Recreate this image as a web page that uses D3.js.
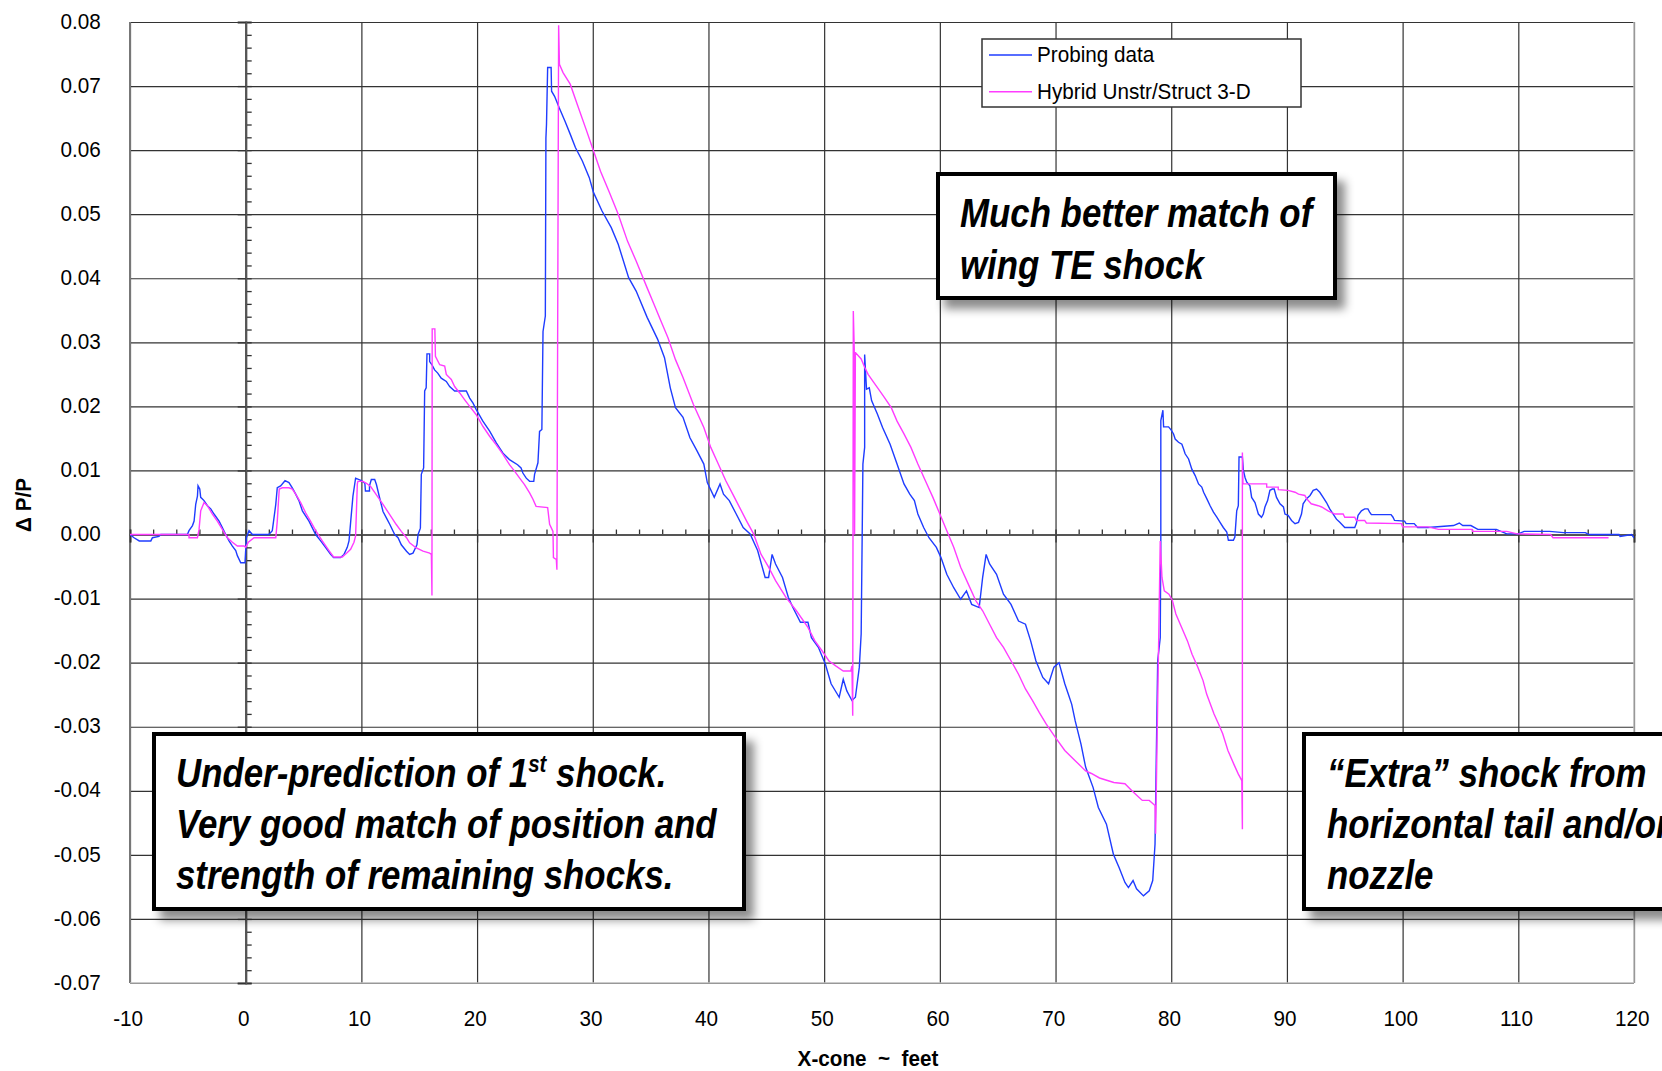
<!DOCTYPE html>
<html>
<head>
<meta charset="utf-8">
<script src="https://cdnjs.cloudflare.com/ajax/libs/d3/7.8.5/d3.min.js"></script>
<style>
  body { margin: 0; background: #fff; }
  svg { display: block; font-family: "Liberation Sans", Arial, sans-serif; }
</style>
</head>
<body>
<svg width="1662" height="1071"></svg>
<script>
// tick labels
var xTicks = [-10, 0, 10, 20, 30, 40, 50, 60, 70, 80, 90, 100, 110, 120];
var yTicks = [0.08, 0.07, 0.06, 0.05, 0.04, 0.03, 0.02, 0.01, 0, -0.01, -0.02, -0.03, -0.04, -0.05, -0.06, -0.07];
var seriesNames = ['Probing data', 'Hybrid Unstr/Struct 3-D'];

// Probing data  [x-cone ft, dP/P]
var probing = [
  [-10, 0], [-9.65, -0.0005], [-9.2, -0.001], [-8.2, -0.001], [-8.06, -0.0005], [-7.5, -0.0003], [-7.34, 0],
  [-5.04, 0], [-4.9, 0.0006], [-4.6, 0.0014], [-4.46, 0.0021], [-4.32, 0.0047], [-4.17, 0.006], [-4.12, 0.0076],
  [-3.97, 0.0071], [-3.89, 0.0058], [-3.6, 0.0053], [-3.31, 0.0045], [-3.02, 0.004], [-2.74, 0.0032], [-2.3, 0.0021],
  [-2.02, 0.0011], [-1.73, 0], [-1.44, -0.001], [-1.15, -0.0018], [-0.86, -0.0025], [-0.72, -0.0033], [-0.43, -0.0044],
  [-0.06, -0.0044], [0.06, -0.0005], [0.29, 0.0006], [0.58, 0], [2.0, 0], [2.3, 0.0006], [2.6, 0.0047], [2.73, 0.0073],
  [3.02, 0.0076], [3.4, 0.0084], [3.74, 0.0081], [4.03, 0.0073], [4.32, 0.0063], [4.6, 0.0053], [4.9, 0.0037],
  [5.47, 0.0021], [6.05, 0], [6.48, -0.001], [6.9, -0.002], [7.34, -0.0031], [7.6, -0.0036], [8.2, -0.0036],
  [8.5, -0.0031], [8.78, -0.002], [8.93, -0.001], [9.07, 0.0019], [9.27, 0.006], [9.5, 0.0088], [10.0, 0.0084],
  [10.3, 0.008], [10.35, 0.0068], [10.7, 0.0068], [10.7, 0.0076], [10.86, 0.0086], [11.15, 0.0086], [11.3, 0.0078],
  [11.58, 0.0057], [11.87, 0.0036], [12.16, 0.0026], [12.45, 0.0016], [12.88, 0], [13.17, -0.0005], [13.45, -0.0016],
  [13.9, -0.0026], [14.17, -0.0031], [14.46, -0.0029], [14.8, -0.0016], [14.9, 0], [15.1, 0.001], [15.18, 0.0094],
  [15.38, 0.0104], [15.47, 0.0224], [15.6, 0.0229], [15.67, 0.0282], [15.9, 0.0282], [15.9, 0.027], [16.1, 0.0265],
  [16.33, 0.0257], [16.6, 0.0252], [16.9, 0.0244], [17.34, 0.0239], [17.63, 0.0231], [18.06, 0.0224], [19.07, 0.0224],
  [19.36, 0.0213], [19.65, 0.0205], [19.93, 0.0195], [20.5, 0.0177], [21.1, 0.0161], [21.66, 0.0143], [22.24, 0.0127],
  [22.8, 0.0117], [23.5, 0.0109], [23.8, 0.0104], [23.96, 0.0096], [24.25, 0.0088], [24.54, 0.0083], [24.9, 0.0083],
  [24.97, 0.0094], [25.26, 0.0112], [25.4, 0.0161], [25.6, 0.0164], [25.7, 0.0317], [25.9, 0.0341], [25.95, 0.0619],
  [26.0, 0.064], [26.1, 0.0729], [26.4, 0.0729], [26.44, 0.0692], [26.7, 0.0684], [27.1, 0.0666], [27.6, 0.0645],
  [28.05, 0.0625], [28.5, 0.0604], [29.1, 0.0583], [29.7, 0.0557], [30.06, 0.0534], [30.8, 0.0505], [31.6, 0.0479],
  [32.2, 0.0453], [33.1, 0.0401], [33.75, 0.038], [34.7, 0.0339], [35.6, 0.0305], [36.2, 0.0276], [36.7, 0.0229],
  [37.15, 0.0198], [37.8, 0.0183], [38.4, 0.0151], [39.0, 0.0131], [39.6, 0.011], [39.9, 0.0081], [40.5, 0.0058],
  [41.0, 0.0079], [41.3, 0.0063], [41.8, 0.0053], [42.4, 0.0032], [43.0, 0.0011], [43.6, 0.0001], [44.25, -0.0025],
  [44.9, -0.0067], [45.2, -0.0067], [45.5, -0.0031], [45.8, -0.0046], [46.4, -0.0067], [46.9, -0.0098], [47.3, -0.0114],
  [47.95, -0.0137], [48.6, -0.0137], [48.9, -0.0161], [49.5, -0.0176], [50.1, -0.0202], [50.6, -0.0233], [51.3, -0.0254],
  [51.65, -0.0226], [51.96, -0.0244], [52.4, -0.0259], [52.7, -0.0254], [53.04, -0.0207], [53.2, -0.0155], [53.35, 0.011],
  [53.5, 0.0136], [53.5, 0.0281], [53.66, 0.0227], [53.9, 0.0229], [54.1, 0.0209], [54.6, 0.0188], [55.05, 0.0167],
  [55.7, 0.0141], [56.3, 0.011], [56.9, 0.0079], [57.4, 0.0063], [57.8, 0.0053], [58.1, 0.0032], [58.6, 0.0011],
  [59.06, -0.0005], [59.7, -0.002], [60.1, -0.0036], [60.6, -0.0062], [61.2, -0.0083], [61.8, -0.0101], [62.3, -0.0088],
  [62.75, -0.0109], [63.4, -0.0114], [63.7, -0.0067], [64.0, -0.0031], [64.3, -0.0046], [64.9, -0.0062], [65.5, -0.0093],
  [66.15, -0.0109], [66.8, -0.0135], [67.4, -0.014], [67.85, -0.0166], [68.3, -0.0197], [68.9, -0.0223], [69.4, -0.0233],
  [69.86, -0.0207], [70.3, -0.02], [70.8, -0.0233], [71.1, -0.0249], [71.4, -0.0265], [71.7, -0.0291], [72.2, -0.0327],
  [72.6, -0.0363], [73.25, -0.0395], [73.7, -0.0426], [74.4, -0.0452], [75.0, -0.0499], [75.5, -0.052], [76.0, -0.0543],
  [76.3, -0.0551], [76.7, -0.054], [77.0, -0.0553], [77.6, -0.0564], [78.1, -0.0556], [78.4, -0.054], [78.6, -0.0483],
  [78.83, -0.0197], [79.05, -0.0161], [79.1, -0.001], [79.1, 0.0178], [79.28, 0.0194], [79.34, 0.0168], [79.77, 0.0168],
  [80.0, 0.0163], [80.2, 0.0157], [80.34, 0.0149], [80.63, 0.0144], [80.92, 0.0141], [81.06, 0.0134], [81.2, 0.0126],
  [81.5, 0.0118], [81.78, 0.0102], [82.07, 0.0092], [82.36, 0.0079], [82.64, 0.0074], [82.8, 0.0066], [83.07, 0.0056],
  [83.36, 0.0045], [83.65, 0.0035], [83.94, 0.0027], [84.22, 0.0019], [84.5, 0.0011], [84.8, 0.0004], [84.94, -0.0009],
  [85.37, -0.0009], [85.5, -0.0004], [85.66, 0.0037], [85.8, 0.0045], [85.86, 0.0121], [86.15, 0.0121], [86.24, 0.01],
  [86.38, 0.0089], [86.52, 0.0082], [86.8, 0.0076], [86.95, 0.0058], [87.24, 0.005], [87.4, 0.004], [87.53, 0.0032],
  [87.8, 0.0027], [87.96, 0.0032], [88.1, 0.0043], [88.33, 0.0053], [88.53, 0.0069], [88.74, 0.0071], [88.9, 0.0071],
  [89.1, 0.0058], [89.4, 0.0048], [89.7, 0.0043], [89.83, 0.0032], [90.1, 0.003], [90.4, 0.0022], [90.7, 0.0017],
  [91.0, 0.0019], [91.26, 0.0032], [91.4, 0.0048], [91.7, 0.0056], [92.0, 0.0061], [92.27, 0.0069], [92.56, 0.0071],
  [92.84, 0.0066], [93.13, 0.0058], [93.42, 0.005], [93.7, 0.004], [94.0, 0.0032], [94.28, 0.0024], [94.57, 0.0019],
  [95.0, 0.0011], [95.86, 0.0011], [96.0, 0.0017], [96.15, 0.003], [96.44, 0.0037], [96.72, 0.004], [97.0, 0.004],
  [97.15, 0.0035], [97.3, 0.0031], [99.0, 0.0031], [99.17, 0.0027], [99.3, 0.0022], [100.17, 0.0021], [100.3, 0.0017],
  [101.0, 0.0017], [101.3, 0.0011], [102.2, 0.0011], [104.4, 0.0014], [104.9, 0.0018], [105.2, 0.0014], [105.9, 0.0014],
  [106.5, 0.0008], [108.1, 0.0008], [109.0, 0.0001], [110.0, 0.0001], [110.5, 0.0005], [112.7, 0.0005], [113.9, 0.0003],
  [115.8, 0.0003], [116.1, 0], [118.7, 0], [118.8, -0.0003], [119.8, 0], [120, -0.0005]
];

// Hybrid Unstr/Struct 3-D  [x-cone ft, dP/P]
var hybrid = [
  [-10, 0], [-4.9, 0], [-4.9, -0.0005], [-4.17, -0.0005], [-4.03, 0.0008], [-3.89, 0.0037], [-3.6, 0.005],
  [-3.31, 0.0045], [-2.88, 0.0032], [-2.45, 0.0021], [-2.02, 0.0008], [-1.58, -0.0005], [-1.15, -0.0012],
  [-0.72, -0.0018], [-0.14, -0.0018], [0, -0.002], [0.23, -0.0012], [0.72, -0.0005], [2.6, -0.0005], [2.73, 0.0021],
  [2.9, 0.0071], [3.17, 0.0073], [3.74, 0.0073], [4.03, 0.0071], [4.32, 0.0063], [4.75, 0.005], [5.18, 0.0034],
  [5.6, 0.0021], [6.05, 0.0006], [6.62, -0.001], [7.2, -0.0025], [7.6, -0.0035], [8.35, -0.0035], [8.78, -0.0028],
  [9.07, -0.0023], [9.36, -0.0012], [9.5, -0.0002], [9.65, 0.0079], [9.7, 0.0083], [10.14, 0.0083], [10.43, 0.008],
  [10.8, 0.0075], [11.3, 0.0062], [11.87, 0.0047], [12.45, 0.0031], [13.0, 0.0016], [13.45, 0.0005], [13.9, -0.0005],
  [14.17, -0.0013], [14.75, -0.0021], [15.33, -0.0026], [15.9, -0.0029], [16.05, -0.0031], [16.1, -0.0095],
  [16.12, 0.0321], [16.35, 0.0321], [16.4, 0.0278], [16.77, 0.0265], [17.2, 0.0263], [17.34, 0.025], [17.77, 0.0242],
  [18.06, 0.0231], [18.5, 0.0221], [18.9, 0.0211], [19.36, 0.02], [19.93, 0.0187], [20.5, 0.0169], [21.1, 0.0153],
  [21.66, 0.014], [22.24, 0.0125], [22.8, 0.0109], [23.24, 0.0099], [23.68, 0.0088], [24.1, 0.0078], [24.54, 0.0065],
  [24.83, 0.0055], [25.1, 0.0044], [26.1, 0.0042], [26.27, 0.0016], [26.56, 0.0005], [26.6, -0.0036], [26.85, -0.0039],
  [26.9, -0.0055], [27.05, 0.0795], [27.12, 0.0734], [27.43, 0.0721], [28.05, 0.0703], [28.67, 0.0671], [29.43, 0.0632],
  [30.06, 0.0599], [30.67, 0.0567], [31.44, 0.0534], [32.2, 0.05], [33.0, 0.0458], [33.75, 0.0427], [34.7, 0.0385],
  [35.3, 0.0359], [35.9, 0.0333], [36.5, 0.0307], [37.15, 0.0273], [37.8, 0.0245], [38.7, 0.0203], [39.6, 0.0167],
  [40.2, 0.0136], [40.85, 0.011], [41.5, 0.0084], [42.1, 0.0063], [42.7, 0.0042], [43.3, 0.0021], [43.9, 0.0001],
  [44.55, -0.0031], [45.2, -0.0051], [45.8, -0.0072], [46.7, -0.0098], [47.6, -0.0119], [48.6, -0.0145], [49.2, -0.0166],
  [49.8, -0.0181], [50.4, -0.0197], [51.0, -0.0205], [51.65, -0.0213], [52.3, -0.0213], [52.4, -0.0205], [52.47, -0.0283],
  [52.52, 0.0349], [52.6, 0.029], [52.63, 0.0], [52.7, 0.0284], [53.2, 0.0274], [53.5, 0.0261], [53.8, 0.025],
  [54.3, 0.0237], [54.7, 0.0227], [55.2, 0.0214], [55.8, 0.0198], [56.3, 0.0177], [56.9, 0.0157], [57.5, 0.0136],
  [58.1, 0.011], [58.75, 0.0084], [59.4, 0.0058], [60.0, 0.0032], [60.6, 0.0006], [61.2, -0.002], [61.8, -0.0051],
  [62.45, -0.0077], [63.1, -0.0103], [63.7, -0.0119], [64.3, -0.014], [64.9, -0.0161], [65.5, -0.0176], [66.15, -0.0197],
  [66.8, -0.0218], [67.4, -0.0241], [68.0, -0.0259], [68.6, -0.0278], [69.2, -0.0296], [70.0, -0.0317], [70.8, -0.0337],
  [71.7, -0.0353], [72.6, -0.0369], [73.1, -0.0373], [73.8, -0.038], [75.04, -0.0387], [76.0, -0.0389], [76.6, -0.04],
  [77.2, -0.041], [77.5, -0.0415], [78.1, -0.0415], [78.6, -0.0423], [78.65, -0.0467], [79.05, -0.001], [79.2, -0.0067],
  [79.4, -0.0088], [79.8, -0.0093], [80.1, -0.0103], [80.4, -0.0124], [80.9, -0.0145], [81.4, -0.0166], [81.8, -0.0187],
  [82.3, -0.0207], [82.75, -0.0228], [83.06, -0.0249], [83.7, -0.028], [84.1, -0.0296], [84.45, -0.0311], [84.9, -0.0337],
  [85.4, -0.0358], [85.8, -0.0374], [86.1, -0.0384], [86.15, -0.046], [86.15, 0.0128], [86.2, 0.0079], [88.25, 0.0079],
  [88.25, 0.0074], [89.25, 0.0074], [89.25, 0.007], [90.1, 0.0069], [90.7, 0.0066], [91.0, 0.0063], [91.55, 0.0061],
  [91.7, 0.0056], [92.1, 0.0048], [92.7, 0.0045], [93.0, 0.0043], [93.56, 0.0037], [94.14, 0.0032], [94.86, 0.0032],
  [95.0, 0.0027], [95.86, 0.0027], [96.0, 0.0022], [96.72, 0.0022], [96.87, 0.0018], [99.9, 0.0017], [100.0, 0.0012],
  [102.2, 0.0012], [103.1, 0.0008], [106.0, 0.0008], [106.05, 0.0005], [109.0, 0.0005], [109.9, 0.0001], [112.8, 0],
  [113.0, -0.0005], [117.8, -0.0005]
];

// callout texts
var note1 = ['Much better match of', 'wing TE shock'];
var note2 = ['Very good match of position and', 'strength of remaining shocks.'];
var note3 = ['\u201CExtra\u201D shock from', 'horizontal tail and/or', 'nozzle'];

function main() {
    var svg = d3.select('svg');
    var left = 130, right = 1634, top = 22, bottom = 983;
    var width = right - left, height = bottom - top;

    var x = d3.scaleLinear().domain([-10, 120]).range([left, right]);
    var y = d3.scaleLinear().domain([-0.07, 0.08]).range([bottom, top]);

    var defs = svg.append('defs');
    defs.append('clipPath').attr('id', 'plotclip')
        .append('rect').attr('x', left).attr('y', top - 2).attr('width', width).attr('height', height + 2);
    var f = defs.append('filter').attr('id', 'shadow')
        .attr('x', '-10%').attr('y', '-10%').attr('width', '130%').attr('height', '140%');
    f.append('feDropShadow').attr('dx', 8).attr('dy', 9).attr('stdDeviation', 5)
        .attr('flood-color', '#000').attr('flood-opacity', 0.45);

    // grid lines
    svg.append('g').attr('class', 'grid')
        .attr('transform', 'translate(0,' + bottom + ')')
        .call(d3.axisBottom(x).tickValues(xTicks).tickSize(-height).tickFormat(''))
        .call(function(g) { g.select('.domain').remove(); })
        .selectAll('line').attr('stroke', '#333').attr('stroke-width', 1.2);
    svg.append('g').attr('class', 'grid')
        .attr('transform', 'translate(' + left + ',0)')
        .call(d3.axisLeft(y).tickValues(yTicks).tickSize(-width).tickFormat(''))
        .call(function(g) { g.select('.domain').remove(); })
        .selectAll('line').attr('stroke', '#333').attr('stroke-width', 1.2);

    // plot frame
    svg.append('line').attr('x1', left).attr('x2', left).attr('y1', top).attr('y2', bottom)
        .attr('stroke', '#777').attr('stroke-width', 2);
    svg.append('line').attr('x1', left).attr('x2', right).attr('y1', bottom).attr('y2', bottom)
        .attr('stroke', '#bbb').attr('stroke-width', 1.5);
    svg.append('line').attr('x1', right).attr('x2', right).attr('y1', top).attr('y2', bottom)
        .attr('stroke', '#bbb').attr('stroke-width', 1.5);

    // inner axes through the origin
    var yAxisG = svg.append('g').attr('transform', 'translate(' + x(0) + ',0)');
    yAxisG.append('g').call(d3.axisRight(y).ticks(75).tickSize(6).tickFormat(''));
    yAxisG.append('g').call(d3.axisLeft(y).tickValues(yTicks).tickSize(8).tickFormat(''));
    yAxisG.selectAll('.domain').attr('stroke', '#555').attr('stroke-width', 2);
    yAxisG.selectAll('line').attr('stroke', '#333').attr('stroke-width', 1.3);

    var xAxisG = svg.append('g').attr('transform', 'translate(0,' + y(0) + ')');
    xAxisG.append('g').call(d3.axisTop(x).ticks(65).tickSize(5).tickFormat(''));
    xAxisG.append('g').call(d3.axisBottom(x).tickValues(xTicks).tickSize(8).tickFormat(''));
    xAxisG.selectAll('.domain').attr('stroke', '#555').attr('stroke-width', 2);
    xAxisG.selectAll('line').attr('stroke', '#333').attr('stroke-width', 1.3);

    // tick labels
    svg.append('g').attr('transform', 'translate(' + left + ',0)')
        .call(d3.axisLeft(y).tickValues(yTicks).tickSize(0).tickFormat(function(d) { return d.toFixed(2); }))
        .call(function(g) { g.select('.domain').remove(); })
        .selectAll('text')
        .attr('x', -31).attr('dy', '0.28em')
        .attr('transform', 'scale(0.94,1)')
        .style('font-size', '22px').attr('fill', '#000');

    svg.append('g').attr('transform', 'translate(0,' + bottom + ')')
        .call(d3.axisBottom(x).tickValues(xTicks).tickSize(0).tickPadding(27).tickFormat(function(d) { return String(d); }))
        .call(function(g) { g.select('.domain').remove(); })
        .selectAll('text')
        .attr('x', -2.5)
        .attr('transform', 'scale(0.94,1)')
        .style('font-size', '22px').attr('fill', '#000');

    // axis titles
    svg.append('text')
        .attr('transform', 'translate(868,1066) scale(0.94,1)')
        .attr('text-anchor', 'middle')
        .style('font-size', '22px').style('font-weight', 'bold')
        .attr('xml:space', 'preserve')
        .text('X-cone  ~  feet');
    svg.append('text')
        .attr('transform', 'translate(31,505) rotate(-90) scale(0.94,1)')
        .attr('text-anchor', 'middle')
        .style('font-size', '22px').style('font-weight', 'bold')
        .attr('xml:space', 'preserve')
        .text('\u0394 P/P');

    // series
    var line = d3.line()
        .x(function(d) { return x(d[0]); })
        .y(function(d) { return y(d[1]); });
    var plot = svg.append('g').attr('clip-path', 'url(#plotclip)');
    plot.append('path').datum(probing)
        .attr('fill', 'none').attr('stroke', '#1f3cff').attr('stroke-width', 1.4)
        .attr('stroke-linejoin', 'miter').attr('d', line);
    plot.append('path').datum(hybrid)
        .attr('fill', 'none').attr('stroke', '#ff3cff').attr('stroke-width', 1.4)
        .attr('stroke-linejoin', 'miter').attr('d', line);

    // legend
    var colors = ['#1f3cff', '#ff3cff'];
    var lg = svg.append('g');
    lg.append('rect').attr('x', 982).attr('y', 39).attr('width', 319).attr('height', 68)
        .attr('fill', '#fff').attr('stroke', '#333').attr('stroke-width', 1.5);
    seriesNames.forEach(function(name, i) {
        var ly = 55 + i * 36.7;
        lg.append('line').attr('x1', 989).attr('x2', 1032).attr('y1', ly).attr('y2', ly)
            .attr('stroke', colors[i]).attr('stroke-width', 1.4);
        lg.append('text')
            .attr('transform', 'translate(1037,' + (ly + 7) + ') scale(0.94,1)')
            .style('font-size', '22px').attr('fill', '#000')
            .text(name);
    });

    // callout boxes
    function box(x0, y0, w, h) {
        svg.append('rect').attr('x', x0 + 2).attr('y', y0 + 2).attr('width', w - 4).attr('height', h - 4)
            .attr('fill', '#fff').attr('stroke', '#000').attr('stroke-width', 4)
            .attr('filter', 'url(#shadow)');
    }
    function noteText(tx, ty) {
        return svg.append('text')
            .attr('transform', 'translate(' + tx + ',' + ty + ') scale(0.85,1)')
            .style('font-size', '41px').style('font-weight', 'bold').style('font-style', 'italic')
            .attr('fill', '#000');
    }

    box(936, 172, 401, 128);
    note1.forEach(function(t, i) { noteText(960, 227 + i * 51.6).text(t); });

    box(152, 732, 594, 179);
    var first = noteText(176, 787);
    first.append('tspan').text('Under-prediction of 1');
    first.append('tspan').attr('dy', -15).style('font-size', '24px').text('st');
    first.append('tspan').attr('dy', 15).text(' shock.');
    note2.forEach(function(t, i) { noteText(176, 838 + i * 50.6).text(t); });

    box(1302, 732, 420, 179);
    note3.forEach(function(t, i) { noteText(1327, 787 + i * 50.8).text(t); });
}
main();
</script>
</body>
</html>
